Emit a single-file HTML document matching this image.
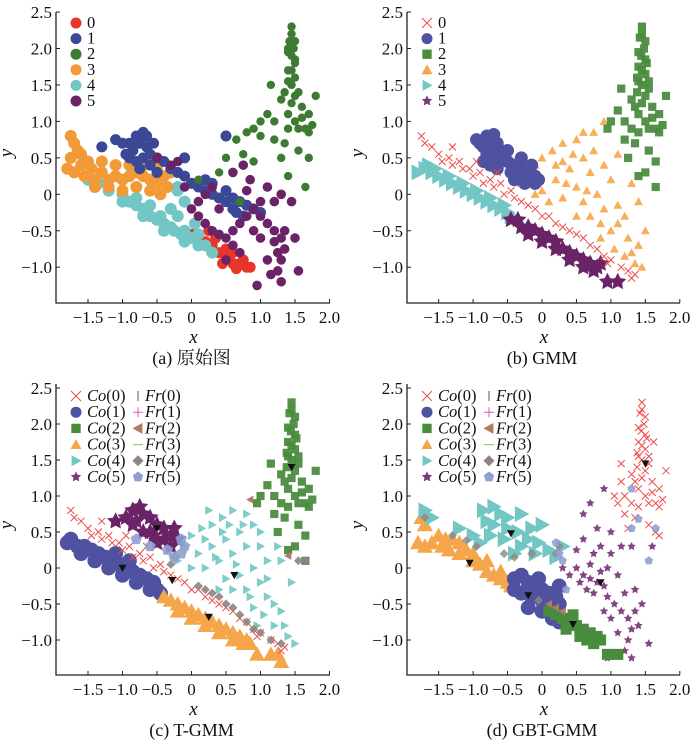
<!DOCTYPE html>
<html><head><meta charset="utf-8"><style>
html,body{margin:0;padding:0;background:#fff}
svg{display:block}
svg text{font-family:"Liberation Serif","Noto Serif CJK SC",serif !important;fill:#111}
</style></head><body>
<svg id="chart" width="700" height="750" viewBox="0 0 700 750" xmlns="http://www.w3.org/2000/svg" font-family="'Liberation Serif', 'Noto Serif CJK SC', serif"></svg>
<script>
// ---- data (flat x,y pairs) ----
const xTicks=[-1.5,-1.0,-0.5,0,0.5,1.0,1.5,2.0];
const xTickLabels=["\u22121.5","\u22121.0","\u22120.5","0","0.5","1.0","1.5","2.0"];
const yTicks=[-1.0,-0.5,0,0.5,1.0,1.5,2.0,2.5];
const yTickLabels=["\u22121.0","\u22120.5","0","0.5","1.0","1.5","2.0","2.5"];

const a0=[0,-0.55,0.1,-0.6,0.2,-0.65,0.3,-0.7,0.4,-0.8,0.5,-0.85,0.55,-0.9,0.6,-0.95,0.7,-0.95,0.8,-1.0,0.85,-1.0,0.65,-1.02,0.5,-0.75,0.35,-0.6,0.25,-0.5,0.45,-0.95,0.75,-0.9,0.6,-0.8];
const a1=[-0.8,0.8,-0.7,0.85,-0.75,0.7,-0.65,0.65,-0.85,0.6,-0.6,0.55,-0.5,0.5,-0.7,0.5,-0.9,0.7,-0.55,0.7,-0.4,0.45,-0.3,0.35,-0.2,0.3,-0.1,0.25,0,0.15,0.1,0.1,0.2,0.05,0.3,0,0.4,-0.05,0.5,-0.1,0.6,-0.05,0.7,-0.1,0.8,-0.15,0.9,-0.2,1.0,-0.25,0.5,0.05,0.3,0.15,-1.0,0.7,-1.1,0.75,-1.3,0.65,0.5,0.8,-0.1,0.5,0.65,-0.25,-0.65,0.8,-0.9,0.5,-0.8,0.45,-0.6,0.4,-0.75,0.35,-0.5,0.3,-0.95,0.55,0.6,-0.2,0.75,-0.3,0.2,0.2];
const a2=[1.45,2.3,1.42,2.1,1.48,2.0,1.45,1.9,1.4,1.7,1.5,1.6,1.45,1.5,1.35,1.4,1.55,1.4,1.3,1.3,1.6,1.2,1.7,1.1,1.75,0.95,1.65,0.9,1.5,1.0,1.4,0.9,1.2,1.0,1.1,1.1,1.0,1.0,0.9,0.9,0.8,0.85,0.65,0.75,1.0,0.8,1.2,0.75,1.35,0.7,1.55,0.6,1.7,0.5,1.3,0.5,1.4,0.25,0.9,0.45,1.15,1.5,1.8,1.35,0.75,0.55,0.4,0.3,0.1,0.2,0.5,0.5,1.65,0.1,0.7,-0.1,1.5,1.8,1.4,2.0,1.45,2.2,1.5,2.1,1.4,1.95,1.5,1.85,1.45,1.7,1.4,1.55,1.5,1.35,1.45,1.25,1.6,1.05,1.55,0.9,1.7,0.85,1.4,1.1];
const a3=[-1.75,0.8,-1.7,0.7,-1.65,0.6,-1.8,0.35,-1.7,0.3,-1.6,0.4,-1.5,0.45,-1.45,0.35,-1.3,0.3,-1.55,0.25,-1.4,0.2,-1.2,0.2,-1.1,0.25,-1.0,0.2,-0.9,0.25,-0.8,0.3,-0.7,0.25,-0.6,0.2,-0.5,0.15,-0.4,0.25,-0.35,0.1,-0.6,0.05,-0.8,0.1,-1.0,0.05,-1.2,0.1,-0.5,0.35,-0.3,0.3,-1.75,0.5,-1.6,0.55,-1.3,0.45,-1.1,0.4,-0.9,0.4,-1.4,0.1,-0.7,0.4,-0.45,0.0];
const a4=[-1.35,0.15,-1.2,0.05,-1.0,0,-0.9,-0.1,-0.8,-0.15,-0.7,-0.2,-0.6,-0.3,-0.5,-0.35,-0.4,-0.4,-0.3,-0.45,-0.25,-0.5,-0.15,-0.55,-0.1,-0.5,-0.2,-0.3,-0.3,-0.2,-0.1,-0.1,-0.2,0.1,0,-0.6,0.1,-0.55,0.2,-0.7,0.3,-0.8,-0.45,-0.3,0.05,-0.4,-0.6,-0.15,-0.2,0.05,-1.0,-0.1,-0.7,-0.3,-0.4,-0.5,-0.1,-0.65,0.1,-0.7,-0.8,-0.05,-1.5,0.2];
const a5=[-0.5,0.5,-0.3,0.4,-0.1,0.1,0,-0.2,0.1,-0.3,0.2,-0.4,0.3,-0.5,0.4,-0.55,0.5,-0.6,0.6,-0.5,0.7,-0.4,0.8,-0.3,0.9,-0.2,1.0,-0.3,1.1,-0.4,1.2,-0.5,1.3,-0.6,1.35,-0.75,1.3,-0.9,1.25,-1.05,1.3,-1.2,1.15,-1.1,1.1,-0.9,1.0,-0.6,0.9,-0.5,0.6,-0.7,0.5,-0.9,0.7,-0.8,0.85,0.2,0.75,0.4,0.6,0.3,0.3,0.1,0.2,0.0,1.45,-0.1,1.5,-0.6,1.55,-1.05,1.2,-0.1,1.3,0.0,0.95,-1.25,0.8,0.05,0.4,-0.2,1.1,0.1,1.25,-0.8,1.2,-0.65,1.35,-0.5,1.0,-0.1,0.1,-0.1,-0.2,0.45];

const greenExtra=[1.45,2.2,1.5,2.1,1.4,1.95,1.5,1.85,1.45,1.7,1.4,1.55,1.5,1.35,1.45,1.25,1.6,1.05,1.55,0.9,1.7,0.85,1.4,1.1,1.35,1.2,1.55,1.55];
const b0=[-1.75,0.8,-1.7,0.7,-1.6,0.65,-1.5,0.55,-1.45,0.45,-1.35,0.5,-1.3,0.4,-1.2,0.45,-1.15,0.35,-1.05,0.35,-1.0,0.25,-0.9,0.3,-0.85,0.15,-0.75,0.2,-0.7,0.1,-0.6,0.15,-0.55,0.0,-0.45,0.05,-0.4,-0.05,-0.3,-0.1,-0.2,-0.15,-0.1,-0.2,0,-0.3,0.1,-0.3,0.2,-0.4,0.3,-0.45,0.4,-0.5,0.5,-0.55,0.6,-0.6,0.7,-0.7,0.8,-0.75,0.9,-0.85,1.0,-0.9,1.15,-1.0,1.25,-1.05,1.3,-1.15,1.35,-1.1,-1.3,0.65,-0.95,0.45,-0.65,0.3,0.95,-0.95];
const b1=[-0.9,0.7,-0.8,0.8,-0.7,0.82,-0.75,0.65,-0.65,0.7,-0.6,0.6,-0.55,0.5,-0.5,0.45,-0.4,0.4,-0.3,0.35,-0.2,0.3,-0.1,0.25,-0.05,0.2,-0.2,0.2,-0.35,0.25,-0.45,0.3,-0.6,0.45,-0.7,0.5,-0.8,0.55,-0.85,0.65,-0.95,0.75,-0.5,0.6,-0.3,0.5,-0.15,0.4,-0.25,0.15,-0.85,0.45,-0.65,0.35,-0.4,0.2,-0.1,0.15,-0.75,0.4];
const b2=[1.45,2.3,1.42,2.15,1.48,2.0,1.44,1.9,1.4,1.75,1.5,1.65,1.45,1.5,1.38,1.4,1.55,1.45,1.3,1.3,1.6,1.2,1.7,1.1,1.75,0.95,1.65,0.9,1.5,1.0,1.4,0.85,1.3,0.9,1.2,1.0,1.1,1.15,1.0,1.0,0.95,0.9,1.2,0.75,1.35,0.7,1.55,0.6,1.65,0.45,1.4,0.25,1.25,0.5,1.15,1.45,1.8,1.35,1.5,0.3,1.65,0.1,1.52,1.8,1.38,1.6].concat(greenExtra);
const b3=[-0.3,0.15,-0.2,0.3,-0.1,0.4,0,0.5,0.15,0.6,0.3,0.7,0.5,0.75,0.6,0.85,0.75,0.85,0.9,1.0,0.6,0.5,0.4,0.35,0.2,0.2,0,0.05,-0.1,0.0,0.1,-0.1,0.3,-0.05,0.5,0.1,0.7,0.3,0.9,0.4,1.0,0.2,0.8,0.0,0.6,-0.1,0.5,-0.3,0.7,-0.3,0.9,-0.2,1.0,-0.5,1.1,-0.4,1.2,-0.3,1.25,-0.6,1.3,-0.8,1.35,-0.95,1.4,-0.7,1.45,-1.0,1.5,-0.5,1.3,0.15,1.4,-0.1,0.85,-0.6,1.05,-0.75,1.2,-0.85,0.3,0.45,1.1,0.55,0.45,0.55,0.2,0.4,0.75,0.6,0.65,0.05,0.35,0.15,0.85,-0.4,1.1,-0.15];
const b4=[-1.8,0.3,-1.7,0.35,-1.65,0.4,-1.6,0.3,-1.5,0.25,-1.4,0.2,-1.3,0.15,-1.2,0.1,-1.1,0.05,-1.0,0.0,-0.9,-0.05,-0.8,-0.1,-0.7,-0.15,-0.6,-0.2,-0.5,-0.25,-0.45,-0.3,-0.55,-0.15,-0.75,-0.05,-0.95,0.05,-1.15,0.15,-1.35,0.25,-1.55,0.35];
const b5=[-0.45,-0.35,-0.35,-0.35,-0.3,-0.45,-0.2,-0.45,-0.1,-0.5,0,-0.55,0.1,-0.6,0.2,-0.65,0.3,-0.75,0.4,-0.8,0.5,-0.85,0.6,-0.9,0.7,-0.95,0.8,-1.0,0.85,-0.95,-0.2,-0.55,0,-0.65,0.2,-0.75,0.4,-0.9,0.6,-1.0,0.75,-1.05,0.95,-1.2,1.1,-1.2];

const c0=b0;
const c1=[-1.8,0.35,-1.75,0.4,-1.65,0.3,-1.55,0.3,-1.45,0.25,-1.35,0.2,-1.25,0.15,-1.15,0.1,-1.05,0.05,-0.95,0.0,-0.85,-0.05,-0.75,-0.1,-0.65,-0.15,-0.55,-0.2,-0.5,-0.3,-0.45,-0.35,-0.6,-0.3,-0.8,-0.2,-1.0,-0.1,-1.2,0.0,-1.4,0.1,-1.6,0.2,-0.9,0.1,-1.1,0.2];
const c2=b2;
const c3=[-0.4,-0.4,-0.3,-0.45,-0.2,-0.5,-0.1,-0.55,0,-0.6,0.1,-0.65,0.2,-0.7,0.3,-0.75,0.4,-0.8,0.5,-0.85,0.6,-0.9,0.7,-0.95,0.8,-1.0,0.85,-1.05,-0.2,-0.6,0,-0.7,0.2,-0.8,0.4,-0.9,0.6,-1.0,0.75,-1.05,0.95,-1.2,1.15,-1.2,1.3,-1.3,1.25,-1.2];
const c4=[-0.2,0.1,-0.1,0.3,0,0.45,0.15,0.55,0.3,0.6,0.45,0.7,0.6,0.8,0.8,0.75,0.9,0.6,0.7,0.5,0.5,0.4,0.3,0.3,0.1,0.2,0,0.0,0.2,0.0,0.4,0.1,0.6,0.2,0.8,0.3,1.0,0.3,1.1,0.1,0.9,0.0,0.7,-0.1,0.5,-0.15,0.4,-0.3,0.6,-0.3,0.8,-0.3,1.0,-0.2,1.1,-0.4,1.2,-0.5,1.3,-0.6,1.35,-0.8,1.4,-0.95,1.2,-0.8,1.05,-0.65,0.9,-0.55,1.3,0.1,1.45,-0.2,1.5,-1.05,1.25,0.3,0.25,0.8,0.45,0.5,0.2,0.4,0.75,0.6,0.65,0.05,0.35,0.15,0.85,-0.4,1.1,-0.15,0.55,0.6,1.0,0.5,0.95,-0.8];
const c5=[-0.95,0.7,-0.85,0.8,-0.75,0.85,-0.7,0.75,-0.6,0.7,-0.5,0.6,-0.4,0.55,-0.3,0.45,-0.2,0.4,-0.3,0.3,-0.5,0.35,-0.7,0.5,-0.85,0.6,-0.6,0.5,-0.4,0.4,-0.25,0.55,-1.1,0.65,-0.8,0.65,-0.55,0.45];
const cF2=[0.85,0.95,1.4,0.17];
const cF4=[0.1,-0.25,0.2,-0.3,0.3,-0.35,0.4,-0.4,0.5,-0.5,0.6,-0.55,0.7,-0.65,0.8,-0.75,0.9,-0.85,1.0,-0.9,1.15,-1.0,1.3,-1.05,-0.3,0.05,-0.25,0.15,1.55,0.1,1.65,0.1];
const cF5=[-0.15,0.4,-0.1,0.3,-0.15,0.2,-0.25,0.15,-0.35,0.25,-0.6,0.3,-0.8,0.4];
const cCent=[1.45,1.4,-0.5,0.55,-1.0,0.0,-0.28,-0.17,0.62,-0.1,0.25,-0.68];

const d0=[1.45,2.3,1.42,2.15,1.48,2.0,1.44,1.9,1.4,1.75,1.5,1.65,1.45,1.5,1.38,1.4,1.55,1.45,1.3,1.3,1.6,1.2,1.7,1.1,1.75,0.95,1.65,0.9,1.5,1.0,1.4,0.85,1.3,0.9,1.2,1.0,1.15,1.2,1.1,0.9,1.05,1.0,1.2,0.75,1.35,0.7,1.55,0.6,1.65,0.5,1.25,0.55,1.15,1.45,1.8,1.35,1.7,0.45,1.52,1.8,1.38,1.6,1.62,1.75].concat(greenExtra);
const d1=[-0.4,-0.15,-0.3,-0.1,-0.2,-0.2,-0.1,-0.25,0,-0.3,0.1,-0.35,0.2,-0.4,0.25,-0.5,0.1,-0.5,0,-0.45,-0.15,-0.4,-0.3,-0.35,-0.4,-0.3,-0.2,-0.55,0,-0.6,0.15,-0.7,0.25,-0.75,-0.05,-0.15,0.25,-0.25];
const d2=[0.1,-0.6,0.2,-0.65,0.3,-0.7,0.4,-0.75,0.5,-0.8,0.6,-0.85,0.7,-0.9,0.8,-0.95,0.85,-1.0,0.55,-0.95,0.35,-0.85,0.65,-1.0,0.75,-1.05,0.45,-0.65,0.95,-1.2,1.1,-1.2];
const d3=[-1.75,0.7,-1.7,0.6,-1.8,0.35,-1.7,0.3,-1.6,0.35,-1.5,0.45,-1.45,0.3,-1.35,0.25,-1.3,0.4,-1.2,0.2,-1.1,0.25,-1.0,0.1,-0.9,0.05,-0.8,-0.05,-0.7,-0.1,-0.6,-0.15,-0.5,-0.2,-0.45,-0.25,-1.0,0.2,-0.8,0.1,-0.6,-0.05,-1.4,0.4,-1.2,0.35];
const d4=[-0.85,0.8,-0.7,0.85,-0.6,0.75,-0.8,0.65,-0.7,0.6,-0.5,0.55,-0.35,0.5,-0.2,0.4,-0.05,0.35,0.1,0.25,0.2,0.15,-0.1,0.2,-0.3,0.3,-0.55,0.4,-0.75,0.45,-1.0,0.45,-0.9,0.35,-0.4,0.2,0.3,0.3,-1.2,0.55,-1.6,0.7,-1.7,0.8,-0.3,0.75,0,0.6,-0.5,0.7,-0.15,0.55];
const d5=[0.3,0.0,0.4,-0.1,0.5,0.0,0.6,-0.1,0.7,-0.15,0.8,-0.2,0.9,-0.25,0.85,-0.05,0.7,0.05,0.55,-0.2,0.75,-0.35,0.95,-0.4,1.05,-0.5,1.15,-0.6,1.25,-0.7,1.3,-0.85,1.25,-1.0,1.2,-1.15,1.3,-1.25,1.1,-0.9,1.0,-0.7,0.9,-0.6,0.6,0.4,0.8,0.55,0.6,0.75,0.7,0.9,0.9,1.1,0.85,0.3,1.0,0.2,1.15,0.3,1.3,0.3,1.35,-0.3,1.45,-0.5,1.55,-1.05,1.6,0.3,1.0,0.5,0.5,0.25,1.1,-0.1,0.95,-1.25,0.85,-0.95,0.65,-0.3,0.95,0.0,0.75,0.2,1.2,-0.35,1.35,-0.6,1.4,-0.8];
const dF2=[0.1,-0.5,0.2,-0.55,0.3,-0.6];
const dF4=[-1.7,0.7,-1.3,0.45,-1.1,0.38,-0.95,0.3,-0.55,0.2,-0.4,0.15,-0.15,0.2,0.2,0.2,0.25,0.3,-0.05,-0.45];
const dF5=[0.25,0.2,0.3,0.1,0.2,0.35,0.35,-0.3,1.3,1.1,1.3,0.55,1.4,0.68,1.65,0.55,1.55,0.1];
const dCent=[1.5,1.45,-0.45,0.48,-1.05,0.07,-0.2,-0.38,0.45,-0.78,0.85,-0.2];

// ---- drawing ----
const NS="http://www.w3.org/2000/svg";
const FONT="'Liberation Serif', 'Noto Serif CJK SC', serif";
const svg=document.getElementById('chart');
function el(tag,attrs,parent){const e=document.createElementNS(NS,tag);for(const k in attrs)e.setAttribute(k,attrs[k]);if(tag==='text')e.setAttribute('font-family',FONT);(parent||svg).appendChild(e);return e;}
function pts(arr){return arr.map(p=>p.map(v=>v.toFixed(1)).join(',')).join(' ');}
function marker(g,shape,x,y,r,color,op){
  let e;
  if(shape==='circle'){e=el('circle',{cx:x,cy:y,r:r,fill:color,'fill-opacity':op},g);}
  else if(shape==='x'){e=el('path',{d:`M${x-r},${y-r}L${x+r},${y+r}M${x-r},${y+r}L${x+r},${y-r}`,stroke:color,'stroke-width':1,fill:'none','stroke-opacity':op},g);}
  else if(shape==='plus'){e=el('path',{d:`M${x-r},${y}L${x+r},${y}M${x},${y-r}L${x},${y+r}`,stroke:color,'stroke-width':1,fill:'none'},g);}
  else if(shape==='vline'){e=el('path',{d:`M${x},${y-r}L${x},${y+r}`,stroke:color,'stroke-width':1.2},g);}
  else if(shape==='hline'){e=el('path',{d:`M${x-r},${y}L${x+r},${y}`,stroke:color,'stroke-width':1.2},g);}
  else if(shape==='square'){e=el('rect',{x:x-r*0.85,y:y-r*0.85,width:r*1.7,height:r*1.7,fill:color,'fill-opacity':op},g);}
  else if(shape==='tri'){e=el('polygon',{points:pts([[x,y-r],[x+r,y+r*0.8],[x-r,y+r*0.8]]),fill:color,'fill-opacity':op},g);}
  else if(shape==='tridown'){e=el('polygon',{points:pts([[x-r,y-r*0.8],[x+r,y-r*0.8],[x,y+r]]),fill:color,'fill-opacity':op},g);}
  else if(shape==='triright'){e=el('polygon',{points:pts([[x-r*0.8,y-r],[x+r,y],[x-r*0.8,y+r]]),fill:color,'fill-opacity':op},g);}
  else if(shape==='trileft'){e=el('polygon',{points:pts([[x+r*0.8,y-r],[x-r,y],[x+r*0.8,y+r]]),fill:color,'fill-opacity':op},g);}
  else if(shape==='diamond'){e=el('polygon',{points:pts([[x,y-r],[x+r,y],[x,y+r],[x-r,y]]),fill:color,'fill-opacity':op},g);}
  else if(shape==='pent'||shape==='star'){
    const P=[];const n=shape==='pent'?5:10;
    for(let i=0;i<n;i++){const a=-Math.PI/2+i*2*Math.PI/n;const rr=(shape==='star'&&i%2)?r*0.5:r;P.push([x+rr*Math.cos(a),y+rr*Math.sin(a)]);}
    e=el('polygon',{points:pts(P),fill:color,'fill-opacity':op},g);
  }
  return e;
}
const COL={red:'#e8352b',redx:'#ee4a4a',blue:'#3b4895',blue2:'#4f52a0',green:'#3c7b31',green2:'#4a8c3e',orange:'#f39a38',orange2:'#f6a64a',cyan:'#72c6c3',purple:'#6b2368',purple2:'#7e3a80',gray:'#8f8482',brown:'#b07a64',pent:'#8fa0d0',pink:'#d658b0',lgreen:'#8fd07a'};

function panel(cfg){
  const g=el('g',{});
  
  
  const X=v=>cfg.ox+v*cfg.sx, Y=v=>cfg.oy-v*cfg.sy;
  cfg.series.forEach(s=>{
    const sg=el('g',{},g);
    
    
    for(let i=0;i<s.data.length;i+=2){
      const m=marker(sg,s.shape,X(s.data[i]),Y(s.data[i+1]),s.r,s.color,s.op);
      
      
    }
  });
  const ax=el('path',{d:`M${cfg.left},${cfg.top}L${cfg.left},${cfg.bottom}L${cfg.right},${cfg.bottom}`,stroke:'#222','stroke-width':1.3,fill:'none'},g);
  
  
  xTicks.forEach((t,i)=>{
    const x=X(t);
    el('line',{x1:x,x2:x,y1:cfg.bottom,y2:cfg.bottom-4,stroke:'#222','stroke-width':1},g);
    const tx=el('text',{x:x,y:cfg.bottom+20,'font-size':17,'text-anchor':'middle'},g);
    tx.textContent=xTickLabels[i];
    
    
  });
  yTicks.forEach((t,i)=>{
    const y=Y(t);
    el('line',{x1:cfg.left,x2:cfg.left+4,y1:y,y2:y,stroke:'#222','stroke-width':1},g);
    const tx=el('text',{x:cfg.left-4,y:y+6,'font-size':17,'text-anchor':'end'},g);
    tx.textContent=yTickLabels[i];
    
    
  });
  const xl=el('text',{x:cfg.ox+2,y:cfg.bottom+40,'font-size':19,'font-style':'italic','text-anchor':'middle'},g);
  xl.textContent='x';
  
  
  const yc=cfg.top+141;
  const yl=el('text',{x:cfg.left-44,y:yc,'font-size':19,'font-style':'italic','text-anchor':'middle',transform:`rotate(-90 ${cfg.left-44} ${yc})`},g);
  yl.textContent='y';
  
  
  const tt=el('text',{x:cfg.ox,y:cfg.bottom+61,'font-size':18,'text-anchor':'middle'},g);
  tt.textContent=cfg.title;
  
  
  const lg=el('g',{},g);
  
  
  cfg.legend.forEach((L,i)=>{
    const y=cfg.legTop+i*cfg.legStep;
    L.forEach((it,j)=>{
      const mx=cfg.left+(j?82:20), tx=cfg.left+(j?89:31);
      marker(lg,it.shape,mx,y,it.shape==='x'||it.shape==='plus'||it.shape==='vline'||it.shape==='hline'?5:5.5,it.color,1);
      const t=el('text',{x:tx,y:y+5,'font-size':16.5},lg);
      if(it.pre){const s1=el('tspan',{'font-style':'italic'},t);s1.textContent=it.pre;const s2=el('tspan',{},t);s2.textContent=it.label;}
      else t.textContent=it.label;
      
      
    });
  });
}

const topRow={oy:194.3,sy:72.9,top:12,bottom:303,legTop:23,legStep:15.6};
const botRow={oy:568,sy:72,top:384,bottom:675,legTop:396,legStep:16.2};
const leftCol={ox:191.5,sx:69,left:56,right:330};
const rightCol={ox:542,sx:68.9,left:407,right:680};
const coLeg=()=>[
 [{shape:'x',color:COL.redx,pre:'Co',label:'(0)'},{shape:'vline',color:'#776',pre:'Fr',label:'(0)'}],
 [{shape:'circle',color:COL.blue2,pre:'Co',label:'(1)'},{shape:'plus',color:COL.pink,pre:'Fr',label:'(1)'}],
 [{shape:'square',color:COL.green2,pre:'Co',label:'(2)'},{shape:'trileft',color:COL.brown,pre:'Fr',label:'(2)'}],
 [{shape:'tri',color:COL.orange2,pre:'Co',label:'(3)'},{shape:'hline',color:COL.lgreen,pre:'Fr',label:'(3)'}],
 [{shape:'triright',color:COL.cyan,pre:'Co',label:'(4)'},{shape:'diamond',color:COL.gray,pre:'Fr',label:'(4)'}],
 [{shape:'star',color:COL.purple2,pre:'Co',label:'(5)'},{shape:'pent',color:COL.pent,pre:'Fr',label:'(5)'}]];

panel(Object.assign({name:'panel-a-original',title:'(a) 原始图',
 series:[
  {name:'cluster-0',data:a0,shape:'circle',r:5.5,color:COL.red,op:1},
  {name:'cluster-4',data:a4,shape:'circle',r:6,color:COL.cyan,op:1},
  {name:'cluster-3',data:a3,shape:'circle',r:6,color:COL.orange,op:1},
  {name:'cluster-1',data:a1,shape:'circle',r:5.5,color:COL.blue,op:1},
  {name:'cluster-2',data:a2,shape:'circle',r:4.2,color:COL.green,op:1},
  {name:'cluster-5',data:a5,shape:'circle',r:4.8,color:COL.purple,op:1}],
 legend:[[{shape:'circle',color:COL.red,label:'0'}],[{shape:'circle',color:COL.blue,label:'1'}],[{shape:'circle',color:COL.green,label:'2'}],[{shape:'circle',color:COL.orange,label:'3'}],[{shape:'circle',color:COL.cyan,label:'4'}],[{shape:'circle',color:COL.purple,label:'5'}]]
},topRow,leftCol));

panel(Object.assign({name:'panel-b-gmm',title:'(b) GMM',
 series:[
  {name:'cluster-3',data:b3,shape:'tri',r:4.5,color:COL.orange2,op:0.9},
  {name:'cluster-4',data:b4,shape:'triright',r:8,color:COL.cyan,op:1},
  {name:'cluster-5',data:b5,shape:'star',r:9,color:COL.purple,op:1},
  {name:'cluster-1',data:b1,shape:'circle',r:6.5,color:COL.blue2,op:1},
  {name:'cluster-2',data:b2,shape:'square',r:4.8,color:COL.green2,op:0.95},
  {name:'cluster-0',data:b0,shape:'x',r:3.5,color:COL.redx,op:1}],
 legend:[[{shape:'x',color:COL.redx,label:'0'}],[{shape:'circle',color:COL.blue2,label:'1'}],[{shape:'square',color:COL.green2,label:'2'}],[{shape:'tri',color:COL.orange2,label:'3'}],[{shape:'triright',color:COL.cyan,label:'4'}],[{shape:'star',color:COL.purple2,label:'5'}]]
},topRow,rightCol));

panel(Object.assign({name:'panel-c-tgmm',title:'(c) T-GMM',
 series:[
  {name:'co-4',data:c4,shape:'triright',r:4.5,color:COL.cyan,op:0.9},
  {name:'co-1',data:c1,shape:'circle',r:7.5,color:COL.blue2,op:1},
  {name:'co-3',data:c3,shape:'tri',r:8,color:COL.orange2,op:1},
  {name:'co-5',data:c5,shape:'star',r:9,color:COL.purple,op:1},
  {name:'co-2',data:c2,shape:'square',r:4.8,color:COL.green2,op:0.95},
  {name:'co-0',data:c0,shape:'x',r:3.5,color:COL.redx,op:1},
  {name:'fr-4',data:cF4,shape:'diamond',r:4.5,color:COL.gray,op:0.9},
  {name:'fr-5',data:cF5,shape:'pent',r:6,color:COL.pent,op:0.9},
  {name:'fr-2',data:cF2,shape:'trileft',r:4,color:COL.brown,op:1},
  {name:'centroid',data:cCent,shape:'tridown',r:4,color:'#111',op:1}],
 legend:coLeg()
},botRow,leftCol));

panel(Object.assign({name:'panel-d-gbt-gmm',title:'(d) GBT-GMM',
 series:[
  {name:'co-5',data:d5,shape:'star',r:4.5,color:COL.purple2,op:0.95},
  {name:'co-3',data:d3,shape:'tri',r:8,color:COL.orange2,op:1},
  {name:'co-4',data:d4,shape:'triright',r:8,color:COL.cyan,op:1},
  {name:'co-1',data:d1,shape:'circle',r:7.5,color:COL.blue2,op:1},
  {name:'co-2',data:d2,shape:'square',r:6.5,color:COL.green2,op:1},
  {name:'co-0',data:d0,shape:'x',r:3.5,color:COL.redx,op:1},
  {name:'fr-4',data:dF4,shape:'diamond',r:4.5,color:COL.gray,op:0.8},
  {name:'fr-5',data:dF5,shape:'pent',r:4.5,color:COL.pent,op:0.9},
  {name:'fr-2',data:dF2,shape:'trileft',r:4,color:COL.brown,op:1},
  {name:'centroid',data:dCent,shape:'tridown',r:4,color:'#111',op:1}],
 legend:coLeg()
},botRow,rightCol));
</script>
</body></html>
